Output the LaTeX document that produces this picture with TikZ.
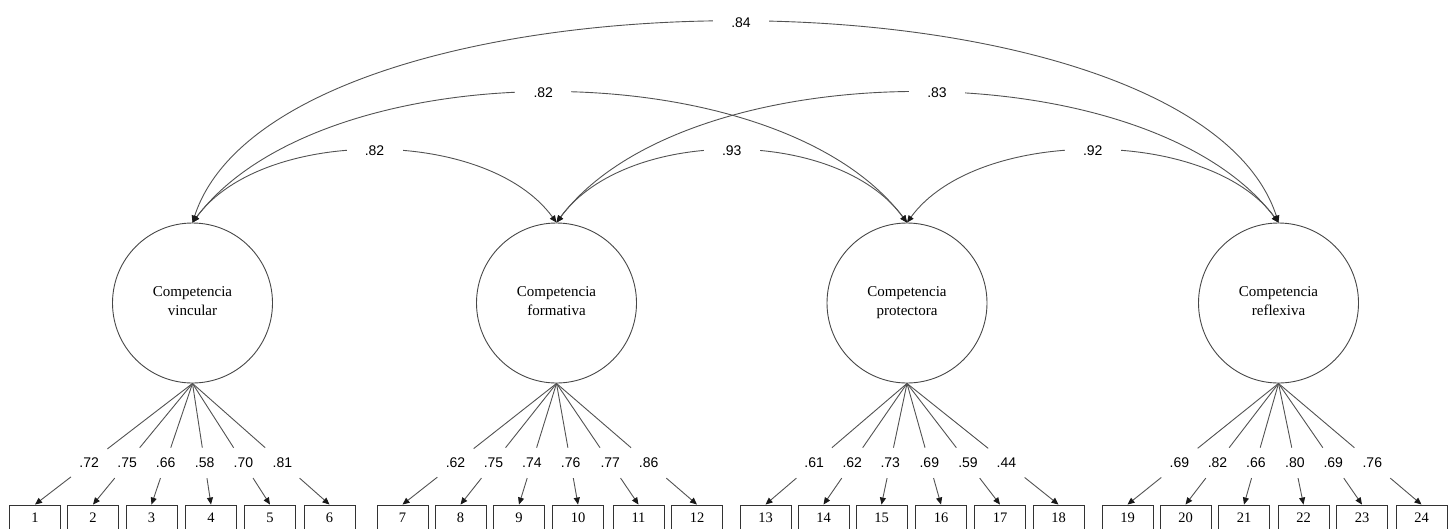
\documentclass[tikz,border=0pt]{standalone}
\usepackage{fontspec}
\setmainfont{Liberation Serif}
\newfontfamily\lblfont{Liberation Sans}
\usetikzlibrary{arrows.meta,calc}
\tikzset{
  latent/.style={circle,draw=black!72,line width=0.9pt,minimum size=160pt,inner sep=0pt,align=center,text depth=4pt,font=\fontsize{15}{19}\selectfont},
  itembox/.style={draw=black!80,line width=0.9pt,minimum width=51pt,minimum height=26pt,inner sep=0pt,font=\fontsize{14.5}{17}\selectfont},
  ld/.style={draw=black!68,line width=0.9pt},
  tip/.style={-{Triangle[length=7pt,width=6pt,color=black!90]}},
  dtip/.style={{Triangle[length=7pt,width=6pt,color=black!90]}-{Triangle[length=7pt,width=6pt,color=black!90]}},
  loadlab/.style={inner sep=0pt,minimum width=36pt,minimum height=30pt,font=\lblfont\fontsize{14}{16}\selectfont},
  arclab/.style={fill=white,inner sep=0pt,minimum width=56pt,minimum height=12pt,font=\lblfont\fontsize{14}{16}\selectfont}
}
\begin{document}
\begin{tikzpicture}[x=1pt,y=-1pt]
\useasboundingbox (0,0) rectangle (1456,528);
\clip (0,0) rectangle (1456,528);
% latent factors
\node[latent] (v) at (192.5,303) {Competencia\\vincular};
\node[latent] (f) at (556.5,303) {Competencia\\formativa};
\node[latent] (p) at (907,303) {Competencia\\protectora};
\node[latent] (r) at (1278.5,303) {Competencia\\reflexiva};
% item boxes
\foreach \i/\x in {1/35,2/93,3/151.5,4/211,5/270,6/329.5,
                   7/402.5,8/460.5,9/519,10/578,11/638.5,12/697,
                   13/765.5,14/823.5,15/881.5,16/941,17/1000,18/1058.5,
                   19/1127.5,20/1185.5,21/1244,22/1303.5,23/1362,24/1421.5}
  \node[itembox] (b\i) at (\x,518) {\i};
% loadings
\foreach \c/\i/\v in {v/1/.72,v/2/.75,v/3/.66,v/4/.58,v/5/.70,v/6/.81,
                      f/7/.62,f/8/.75,f/9/.74,f/10/.76,f/11/.77,f/12/.86,
                      p/13/.61,p/14/.62,p/15/.73,p/16/.69,p/17/.59,p/18/.44,
                      r/19/.69,r/20/.82,r/21/.66,r/22/.80,r/23/.69,r/24/.76}{
  \path (\c.south) -- node[pos=.656,loadlab] (l\i) {\v} (b\i.north);
  \draw[ld] (\c.south) -- (l\i);
  \draw[ld,tip] (l\i) -- (b\i.north);
}
% covariances (lower)
\draw[ld,dtip] (v.north) .. controls ($(v.north)+(70,-96)$) and ($(f.north)+(-70,-96)$) .. node[arclab,pos=.5] {.82} (f.north);
\draw[ld,dtip] (f.north) .. controls ($(f.north)+(70,-96)$) and ($(p.north)+(-70,-96)$) .. node[arclab,pos=.5] {.93} (p.north);
\draw[ld,dtip] (p.north) .. controls ($(p.north)+(70,-96)$) and ($(r.north)+(-70,-96)$) .. node[arclab,pos=.5] {.92} (r.north);
% covariances (middle)
\draw[ld,dtip] (v.north) .. controls ($(v.north)+(130,-173)$) and ($(p.north)+(-130,-173)$) .. node[arclab,pos=.4926] {.82} (p.north);
\draw[ld,dtip] (f.north) .. controls ($(f.north)+(130,-173)$) and ($(r.north)+(-130,-173)$) .. node[arclab,pos=.522] {.83} (r.north);
% covariance (outer)
\draw[ld,dtip] (v.north) .. controls ($(v.north)+(87,-267)$) and ($(r.north)+(-87,-267)$) .. node[arclab,pos=.5037] {.84} (r.north);
\end{tikzpicture}
\end{document}
